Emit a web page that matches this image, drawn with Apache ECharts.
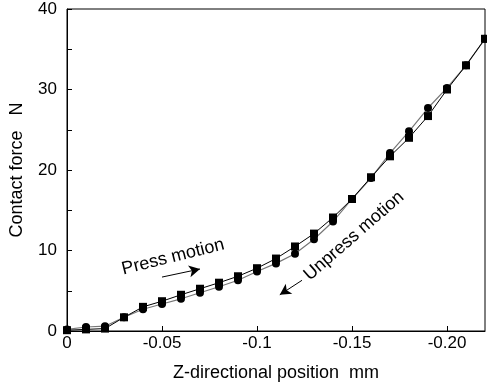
<!DOCTYPE html>
<html>
<head>
<meta charset="utf-8">
<script src="https://cdn.jsdelivr.net/npm/echarts@6/dist/echarts.min.js"></script>
<style>
  html, body { margin: 0; padding: 0; background: #fff; }
  #main { width: 487px; height: 389px; }
</style>
</head>
<body>
<div id="main"></div>
<script>
// z position (mm), one point every 0.01
var positions = [0, -0.01, -0.02, -0.03, -0.04, -0.05, -0.06, -0.07, -0.08, -0.09, -0.10, -0.11,
                 -0.12, -0.13, -0.14, -0.15, -0.16, -0.17, -0.18, -0.19, -0.20, -0.21, -0.22];
// contact force (N)
var forceA = [0.1, 0.2, 0.3, 1.7, 3.0, 3.7, 4.5, 5.25, 6.0, 6.8, 7.8, 9.0,
              10.5, 12.1, 14.1, 16.4, 19.1, 21.7, 24.0, 26.7, 30.0, 33.0, 36.3];
var forceB = [0.2, 0.5, 0.6, 1.7, 2.7, 3.35, 4.0, 4.75, 5.5, 6.3, 7.4, 8.4,
              9.6, 11.4, 13.6, 16.4, 19.0, 22.1, 24.8, 27.7, 30.2, 33.0, 36.3];
var xTicks = [0, -0.05, -0.1, -0.15, -0.2];
var xTickLabels = ['0', '-0.05', '-0.1', '-0.15', '-0.20'];

function pairs(ys) {
	return positions.map(function (x, i) { return [x, ys[i]]; });
}

var font = 'Liberation Sans, Arial, sans-serif';
var chart = echarts.init(document.getElementById('main'));

var option = {
	animation: false,
	grid: {
		left: 67, right: 2, top: 9, bottom: 58,
		show: true, borderColor: '#000', borderWidth: 1
	},
	xAxis: {
		type: 'value',
		min: -0.22, max: 0,
		inverse: true,
		name: 'Z-directional position  mm',
		nameLocation: 'middle',
		nameGap: 33,
		nameTextStyle: { fontFamily: font, fontSize: 18, color: '#000' },
		axisLine: { lineStyle: { color: '#000' } },
		axisTick: { inside: true, length: 5, customValues: xTicks, lineStyle: { color: '#000' } },
		axisLabel: {
			customValues: xTicks,
			fontFamily: font, fontSize: 17, color: '#000', margin: 4,
			formatter: function (v) {
				var i = xTicks.findIndex(function (t) { return Math.abs(t - v) < 1e-9; });
				return i >= 0 ? xTickLabels[i] : '';
			}
		},
		splitLine: { show: false }
	},
	yAxis: {
		type: 'value',
		min: 0, max: 40, interval: 5,
		name: 'Contact force   N',
		nameLocation: 'middle',
		nameGap: 41,
		nameTextStyle: { fontFamily: font, fontSize: 18, color: '#000' },
		axisLine: { show: true, lineStyle: { color: '#000' } },
		axisTick: { show: true, inside: true, length: 5, lineStyle: { color: '#000' } },
		axisLabel: {
			fontFamily: font, fontSize: 17, color: '#000', margin: 10,
			formatter: function (v) { return v % 10 === 0 ? String(v) : ''; }
		},
		splitLine: { show: false }
	},
	series: [
		{
			name: 'press',
			type: 'line',
			data: pairs(forceB),
			symbol: 'circle',
			symbolSize: 8,
			itemStyle: { color: '#000' },
			lineStyle: { color: '#777', width: 1.2 },
			z: 2
		},
		{
			name: 'unpress',
			type: 'line',
			data: pairs(forceA),
			symbol: 'rect',
			symbolSize: 8,
			itemStyle: { color: '#000' },
			lineStyle: { color: '#000', width: 1 },
			z: 3,
			markLine: {
				silent: true,
				symbol: ['none', 'arrow'],
				symbolSize: [9, 11],
				label: { show: false },
				lineStyle: { color: '#000', width: 1, type: 'solid' },
				data: [
					[{ coord: [-0.05, 6.7] }, { coord: [-0.07, 7.7] }],
					[{ coord: [-0.1237, 6.3] }, { coord: [-0.112, 4.5] }]
				]
			}
		}
	],
	graphic: [
		{
			type: 'text',
			x: 173, y: 257,
			rotation: 14 * Math.PI / 180,
			style: {
				text: 'Press motion',
				fontFamily: font, fontSize: 18, fill: '#000',
				textAlign: 'center', textVerticalAlign: 'middle'
			}
		},
		{
			type: 'text',
			x: 354, y: 236,
			rotation: 41 * Math.PI / 180,
			style: {
				text: 'Unpress motion',
				fontFamily: font, fontSize: 18, fill: '#000',
				textAlign: 'center', textVerticalAlign: 'middle'
			}
		}
	]
};

chart.setOption(option);
</script>
</body>
</html>
